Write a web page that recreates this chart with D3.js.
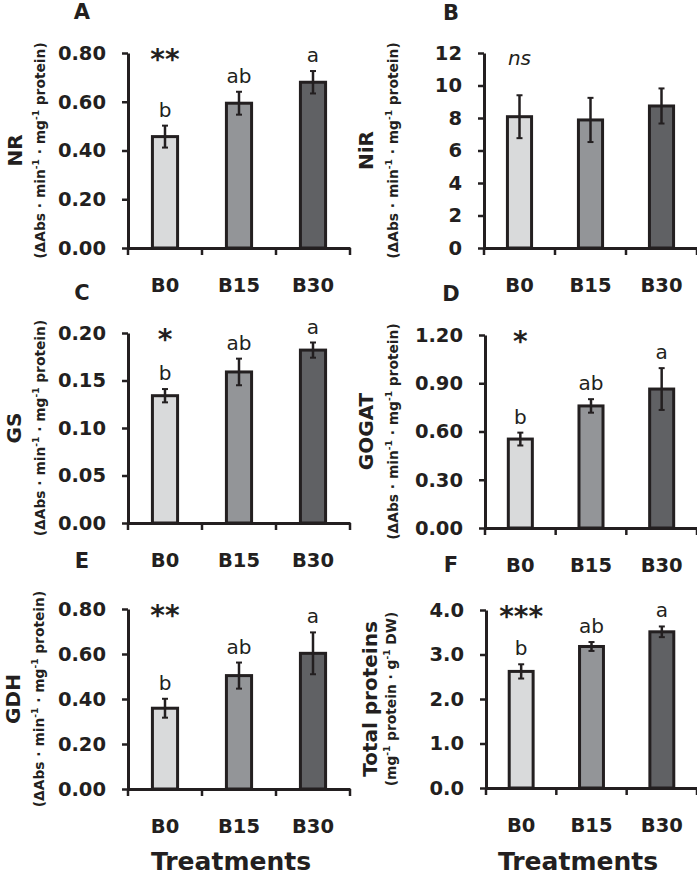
<!DOCTYPE html>
<html>
<head>
<meta charset="utf-8">
<script src="https://cdn.jsdelivr.net/npm/d3@7"></script>
<style>
  body { margin: 0; background: #fff; }
  svg { display: block; font-family: "DejaVu Sans", sans-serif; }
</style>
</head>
<body>
<svg width="697" height="875"></svg>
<script>
const treatments = ['B0', 'B15', 'B30'];

const nrValues = [0.457, 0.594, 0.680];
const nrErrors = [0.045, 0.047, 0.046];
const nrLetters = ['b', 'ab', 'a'];
const nrTicks = [0, 0.2, 0.4, 0.6, 0.8];

const nirValues = [8.08, 7.88, 8.74];
const nirErrors = [1.32, 1.36, 1.08];
const nirLetters = ['', '', ''];
const nirTicks = [0, 2, 4, 6, 8, 10, 12];

const gsValues = [0.134, 0.159, 0.182];
const gsErrors = [0.007, 0.014, 0.008];
const gsLetters = ['b', 'ab', 'a'];
const gsTicks = [0, 0.05, 0.10, 0.15, 0.20];

const gogatValues = [0.553, 0.759, 0.864];
const gogatErrors = [0.040, 0.042, 0.130];
const gogatLetters = ['b', 'ab', 'a'];
const gogatTicks = [0, 0.3, 0.6, 0.9, 1.2];

const gdhValues = [0.359, 0.504, 0.603];
const gdhErrors = [0.042, 0.058, 0.093];
const gdhLetters = ['b', 'ab', 'a'];
const gdhTicks = [0, 0.2, 0.4, 0.6, 0.8];

const proteinValues = [2.62, 3.18, 3.51];
const proteinErrors = [0.16, 0.10, 0.12];
const proteinLetters = ['b', 'ab', 'a'];
const proteinTicks = [0, 1, 2, 3, 4];

const enzymeUnit = [['(ΔAbs · min', false], ['-1', true], [' · mg', false], ['-1', true], [' protein)', false]];
const proteinUnit = [['(mg', false], ['-1', true], [' protein · g', false], ['-1', true], [' DW)', false]];

const barColors = ['#d9dadb', '#939598', '#606164'];
const ink = '#231f20';

const panels = [
    { tag: 'A', title: 'NR', unit: enzymeUnit, values: nrValues, errors: nrErrors, letters: nrLetters, ticks: nrTicks, fmt: '.2f', sig: '**',
      left: 128, right: 350, top: 53, bottom: 248, tagX: 82, tagY: 19, titleX: 22, unitX: 45 },
    { tag: 'B', title: 'NiR', unit: enzymeUnit, values: nirValues, errors: nirErrors, letters: nirLetters, ticks: nirTicks, fmt: 'd', sig: 'ns',
      left: 484, right: 697, top: 53, bottom: 248, tagX: 451, tagY: 20, titleX: 373, unitX: 398 },
    { tag: 'C', title: 'GS', unit: enzymeUnit, values: gsValues, errors: gsErrors, letters: gsLetters, ticks: gsTicks, fmt: '.2f', sig: '*',
      left: 128, right: 350, top: 333, bottom: 523, tagX: 82, tagY: 300, titleX: 21, unitX: 45 },
    { tag: 'D', title: 'GOGAT', unit: enzymeUnit, values: gogatValues, errors: gogatErrors, letters: gogatLetters, ticks: gogatTicks, fmt: '.2f', sig: '*',
      left: 485, right: 697, top: 335, bottom: 528, tagX: 451, tagY: 301, titleX: 373, unitX: 398 },
    { tag: 'E', title: 'GDH', unit: enzymeUnit, values: gdhValues, errors: gdhErrors, letters: gdhLetters, ticks: gdhTicks, fmt: '.2f', sig: '**',
      left: 128, right: 350, top: 609, bottom: 789, tagX: 82, tagY: 568, titleX: 20, unitX: 44 },
    { tag: 'F', title: 'Total proteins', unit: proteinUnit, values: proteinValues, errors: proteinErrors, letters: proteinLetters, ticks: proteinTicks, fmt: '.1f', sig: '***',
      left: 486, right: 697, top: 610, bottom: 788, tagX: 451, tagY: 572, titleX: 377, unitX: 396 }
];

const svg = d3.select('svg');

function drawPanel(p) {
    const g = svg.append('g');

    const x = d3.scaleBand().domain(treatments).range([p.left, p.right]);
    const y = d3.scaleLinear().domain([0, d3.max(p.ticks)]).range([p.bottom, p.top]);
    const barW = x.bandwidth() * 0.34;
    const cx = (t) => x(t) + x.bandwidth() / 2;
    const rows = treatments.map((t, i) => ({ t, v: p.values[i], e: p.errors[i], l: p.letters[i], c: barColors[i] }));

    // bars
    g.selectAll('.bar')
        .data(rows)
        .enter()
        .append('rect')
        .attr('x', (d) => cx(d.t) - barW / 2)
        .attr('y', (d) => y(d.v))
        .attr('width', barW)
        .attr('height', (d) => p.bottom - y(d.v))
        .attr('fill', (d) => d.c)
        .attr('stroke', ink)
        .attr('stroke-width', 3);

    // error bars
    const err = g.selectAll('.err').data(rows).enter().append('g');
    err.append('line')
        .attr('x1', (d) => cx(d.t)).attr('x2', (d) => cx(d.t))
        .attr('y1', (d) => y(d.v + d.e)).attr('y2', (d) => y(d.v - d.e))
        .attr('stroke', ink).attr('stroke-width', 2.5);
    err.append('line')
        .attr('x1', (d) => cx(d.t) - 3).attr('x2', (d) => cx(d.t) + 3)
        .attr('y1', (d) => y(d.v + d.e)).attr('y2', (d) => y(d.v + d.e))
        .attr('stroke', ink).attr('stroke-width', 2);
    err.append('line')
        .attr('x1', (d) => cx(d.t) - 3).attr('x2', (d) => cx(d.t) + 3)
        .attr('y1', (d) => y(d.v - d.e)).attr('y2', (d) => y(d.v - d.e))
        .attr('stroke', ink).attr('stroke-width', 2);

    // letters
    g.selectAll('.letter')
        .data(rows)
        .enter()
        .append('text')
        .attr('x', (d) => cx(d.t))
        .attr('y', (d) => y(d.v + d.e) - 9)
        .attr('text-anchor', 'middle')
        .attr('font-size', 20)
        .attr('fill', ink)
        .text((d) => d.l);

    // significance
    const sig = g.append('text')
        .attr('x', cx(treatments[0]))
        .attr('text-anchor', 'middle')
        .attr('fill', ink)
        .text(p.sig);
    if (p.sig === 'ns') {
        sig.attr('y', p.top + 12).attr('font-size', 20).attr('font-style', 'italic');
    } else {
        sig.attr('y', p.top + 16).attr('font-size', 28).attr('font-weight', 'bold');
    }

    // y axis
    const yAxis = g.append('g')
        .attr('transform', `translate(${p.left},0)`)
        .call(d3.axisLeft(y).tickValues(p.ticks).tickFormat(d3.format(p.fmt))
            .tickSize(6).tickSizeOuter(0).tickPadding(16));

    // x axis
    const xAxis = g.append('g')
        .attr('transform', `translate(0,${p.bottom})`)
        .call(d3.axisBottom(x).tickSize(0).tickSizeOuter(0));
    xAxis.selectAll('.tick text').attr('y', 44).attr('dy', null);

    xAxis.selectAll('.sep')
        .data(treatments.map((t) => x(t)).concat([x.range()[1]]))
        .enter()
        .append('line')
        .attr('x1', (d) => d).attr('x2', (d) => d)
        .attr('y1', 0).attr('y2', 7)
        .attr('stroke', ink).attr('stroke-width', 2.5);

    [yAxis, xAxis].forEach((a) => {
        a.select('.domain').attr('stroke', ink).attr('stroke-width', 3);
        a.selectAll('.tick line').attr('stroke', ink).attr('stroke-width', 2.5);
        a.selectAll('.tick text')
            .attr('fill', ink)
            .attr('font-size', 19.5)
            .attr('font-weight', 'bold')
            .attr('font-family', '"DejaVu Sans", sans-serif');
    });

    // panel tag
    g.append('text')
        .attr('x', p.tagX)
        .attr('y', p.tagY)
        .attr('text-anchor', 'middle')
        .attr('font-size', 21)
        .attr('font-weight', 'bold')
        .attr('fill', ink)
        .text(p.tag);

    // axis titles
    const mid = (p.top + p.bottom) / 2;
    g.append('text')
        .attr('transform', `translate(${p.titleX},${mid}) rotate(-90)`)
        .attr('text-anchor', 'middle')
        .attr('font-size', 20)
        .attr('font-weight', 'bold')
        .attr('fill', ink)
        .text(p.title);

    const unit = g.append('text')
        .attr('transform', `translate(${p.unitX},${mid}) rotate(-90)`)
        .attr('text-anchor', 'middle')
        .attr('font-size', 13.8)
        .attr('font-weight', 'bold')
        .attr('fill', ink);
    p.unit.forEach(([s, sup], i) => {
        const prevSup = i > 0 && p.unit[i - 1][1];
        unit.append('tspan')
            .attr('font-size', sup ? 9 : null)
            .attr('dy', sup ? -6 : (prevSup ? 6 : 0))
            .text(s);
    });
}

panels.forEach(drawPanel);

// bottom labels
[231, 578].forEach((cx) => {
    svg.append('text')
        .attr('x', cx)
        .attr('y', 870)
        .attr('text-anchor', 'middle')
        .attr('font-size', 25)
        .attr('font-weight', 'bold')
        .attr('fill', ink)
        .text('Treatments');
});
</script>
</body>
</html>
